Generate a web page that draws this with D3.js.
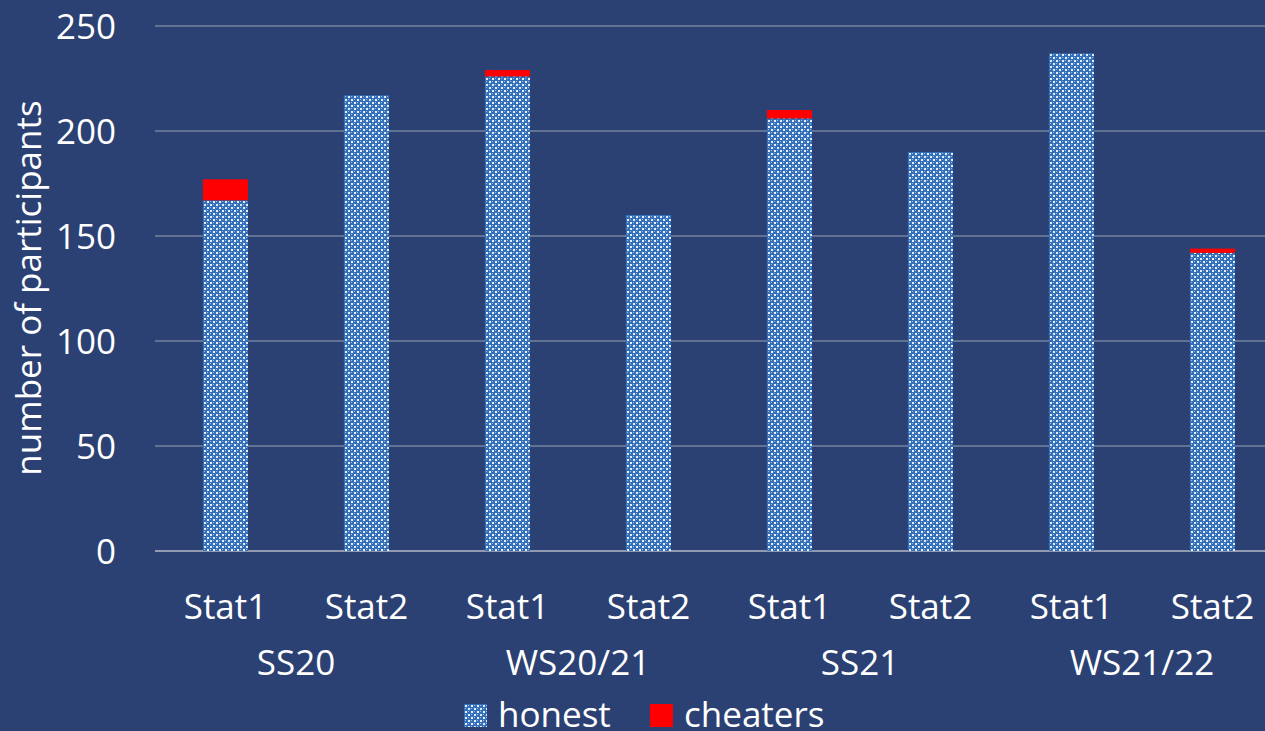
<!DOCTYPE html>
<html>
<head>
<meta charset="utf-8">
<script src="https://cdn.jsdelivr.net/npm/d3@7"></script>
<style>
  html, body { margin: 0; padding: 0; background: #2b4173; }
  svg { display: block; font-family: "Open Sans", sans-serif; }
</style>
</head>
<body>
<div id="chart"></div>
<script>
var courses = ["Stat1", "Stat2", "Stat1", "Stat2", "Stat1", "Stat2", "Stat1", "Stat2"];
var terms = ["SS20", "WS20/21", "SS21", "WS21/22"];
var honest = [167, 217, 226, 160, 206, 190, 237, 142];
var cheaters = [10, 0, 3, 0, 4, 0, 0, 2];
var yTicks = [0, 50, 100, 150, 200, 250];

var width = 1265, height = 731;

var svg = d3.select("#chart").append("svg")
    .attr("width", width)
    .attr("height", height);

// checker pattern for the honest bars
var defs = svg.append("defs");
var pat = defs.append("pattern")
    .attr("id", "checker")
    .attr("width", 6)
    .attr("height", 6)
    .attr("patternUnits", "userSpaceOnUse");
pat.append("rect").attr("width", 6).attr("height", 6).attr("fill", "#3370b9");
pat.append("rect").attr("x", 0).attr("y", 0).attr("width", 2).attr("height", 2).attr("fill", "#e6eef9");
pat.append("rect").attr("x", 3).attr("y", 3).attr("width", 2).attr("height", 2).attr("fill", "#e6eef9");
pat.append("rect").attr("x", 3).attr("y", 0).attr("width", 1).attr("height", 1).attr("fill", "#9dbde3");
pat.append("rect").attr("x", 0).attr("y", 3).attr("width", 1).attr("height", 1).attr("fill", "#9dbde3");

var x = d3.scaleBand()
    .domain(d3.range(courses.length))
    .range([155, 1283])
    .paddingInner(0.68)
    .paddingOuter(0.34);

var y = d3.scaleLinear()
    .domain([0, 250])
    .range([551, 26]);

// gridlines
svg.append("g")
    .selectAll("line")
    .data(yTicks)
    .enter().append("line")
    .attr("x1", 155)
    .attr("x2", width)
    .attr("y1", function (d) { return y(d); })
    .attr("y2", function (d) { return y(d); })
    .attr("stroke", d => d === 0 ? "#b4b8c4" : "#9aa3b8")
    .attr("stroke-width", d => d === 0 ? 1.5 : 1.2);

// y tick labels
svg.append("g")
    .selectAll("text")
    .data(yTicks)
    .enter().append("text")
    .attr("x", 116)
    .attr("y", function (d) { return y(d); })
    .attr("dy", "0.36em")
    .attr("text-anchor", "end")
    .attr("fill", "#ffffff")
    .attr("font-size", 35)
    .text(function (d) { return d; });

// y axis title
svg.append("text")
    .attr("transform", "translate(41," + 288 + ") rotate(-90)")
    .attr("text-anchor", "middle")
    .attr("fill", "#ffffff")
    .attr("font-size", 35)
    .text("number of participants");

// bars
var bars = svg.append("g");
bars.selectAll("rect.honest")
    .data(honest)
    .enter().append("rect")
    .attr("class", "honest")
    .attr("x", function (d, i) { return x(i); })
    .attr("width", x.bandwidth())
    .attr("y", function (d) { return y(d); })
    .attr("height", function (d) { return y(0) - y(d); })
    .attr("fill", "url(#checker)");

bars.selectAll("rect.cheat")
    .data(cheaters)
    .enter().append("rect")
    .attr("class", "cheat")
    .attr("x", function (d, i) { return x(i); })
    .attr("width", x.bandwidth())
    .attr("y", function (d, i) { return y(honest[i] + d); })
    .attr("height", function (d, i) { return y(honest[i]) - y(honest[i] + d); })
    .attr("fill", "#ff0000");

// category labels
svg.append("g")
    .selectAll("text")
    .data(courses)
    .enter().append("text")
    .attr("x", function (d, i) { return x(i) + x.bandwidth() / 2; })
    .attr("y", 606)
    .attr("dy", "0.36em")
    .attr("text-anchor", "middle")
    .attr("fill", "#ffffff")
    .attr("font-size", 35)
    .text(function (d) { return d; });

svg.append("g")
    .selectAll("text")
    .data(terms)
    .enter().append("text")
    .attr("x", function (d, i) { return (x(i * 2) + x(i * 2 + 1) + x.bandwidth()) / 2; })
    .attr("y", 662)
    .attr("dy", "0.36em")
    .attr("text-anchor", "middle")
    .attr("fill", "#ffffff")
    .attr("font-size", 35)
    .text(function (d) { return d; });

// legend
var legend = svg.append("g");
legend.append("rect").attr("x", 464).attr("y", 704).attr("width", 23).attr("height", 23).attr("fill", "url(#checker)");
legend.append("text").attr("x", 498).attr("y", 727).attr("fill", "#ffffff").attr("font-size", 35).text("honest");
legend.append("rect").attr("x", 650).attr("y", 704).attr("width", 23).attr("height", 23).attr("fill", "#ff0000");
legend.append("text").attr("x", 684).attr("y", 727).attr("fill", "#ffffff").attr("font-size", 35).text("cheaters");
</script>
</body>
</html>
